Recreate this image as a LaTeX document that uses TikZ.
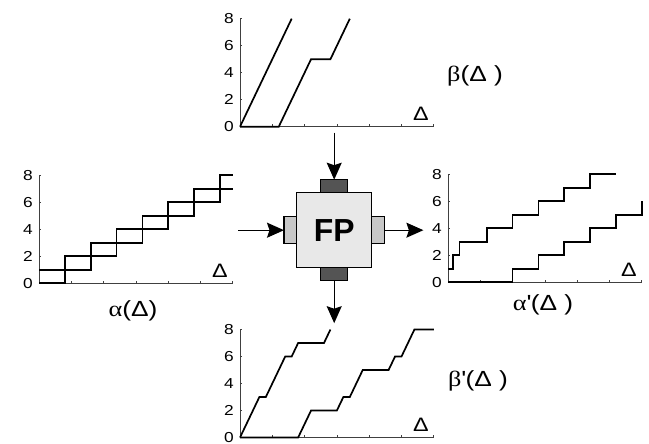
\documentclass[tikz,border=0pt]{standalone}
\usepackage{fontspec}
\setmainfont{Liberation Sans}
\newfontfamily\widefont[FakeStretch=1.2]{Liberation Sans}
\newfontfamily\greekfont[FakeStretch=1.2]{Liberation Serif}
\usepackage{tikz}
\usetikzlibrary{arrows.meta,positioning}

\definecolor{boxgray}{gray}{0.91}
\definecolor{portdark}{gray}{0.33}
\definecolor{portlight}{gray}{0.78}

\tikzset{
  axisline/.style={draw=black!75,line width=0.8bp},
  curve/.style={line width=1.7bp},
  ticklabel/.style={left=6bp,inner sep=0pt,font=\widefont\fontsize{14.5}{14.5}\selectfont},
  deltalabel/.style={inner sep=0pt,font=\widefont\fontsize{19.5}{19.5}\selectfont},
  namelabel/.style={inner sep=0pt,font=\widefont\fontsize{22}{22}\selectfont},
  fpbox/.style={draw,line width=1.4bp,fill=boxgray,minimum size=75bp,inner sep=0pt,
    outer sep=0pt,font=\fontsize{32}{32}\selectfont\bfseries},
  darkport/.style={draw,line width=1.2bp,fill=portdark,minimum width=27bp,minimum height=13bp,
    inner sep=0pt,outer sep=0pt},
  lightport/.style={draw,line width=1.2bp,fill=portlight,minimum width=12.7bp,minimum height=26.7bp,
    inner sep=0pt,outer sep=0pt},
  flow/.style={line width=1.3bp,-{Stealth[length=17bp,width=15bp,inset=2.5bp]}}
}

% axes, ticks and labels of one curve plot
\newcommand{\curveaxes}[1]{%
  \draw[axisline] (0,8) -- (0,0) -- (6,0);
  \foreach \t in {1,...,6} \draw[axisline] (\t,0) -- ++(0,2.5bp);
  \foreach \v in {0,2,4,6,8} {
    \draw[axisline] (0,\v) -- ++(2bp,0);
    \node[ticklabel] (#1\v) at (0,\v) {\v};
  }
  \node[deltalabel] (#1d) at (5.6,0.95) {Δ};
}

\begin{document}
\begin{tikzpicture}[x=1bp,y=1bp]
  \useasboundingbox (0,0) rectangle (649,444);

  % beta (top)
  \begin{scope}[shift={(240,317.3)},x=32.3bp,y=13.5bp]
    \curveaxes{b}
    \draw[curve] (0,0) -- (1.6,8);
    \draw[curve] (0,0) -- (1.2,0) -- (2.2,5) -- (2.8,5) -- (3.4,8);
  \end{scope}
  \node[namelabel] (beta) at (475,368) {{\greekfont β}(Δ )};

  % alpha (left)
  \begin{scope}[shift={(39,160.7)},x=32.3bp,y=13.5bp]
    \curveaxes{a}
    \draw[curve] (0,1) -- (1.6,1) -- (1.6,3) -- (3.2,3) -- (3.2,5) -- (4.8,5) -- (4.8,7) -- (6,7);
    \draw[curve] (0,0) -- (0.8,0) -- (0.8,2) -- (2.4,2) -- (2.4,4) -- (4,4) -- (4,6)
      -- (5.6,6) -- (5.6,8) -- (6,8);
  \end{scope}
  \node[namelabel] (alpha) at (133,133) {{\greekfont α}(Δ)};

  % alpha' (right)
  \begin{scope}[shift={(448,161.7)},x=32.3bp,y=13.5bp]
    \curveaxes{c}
    \draw[curve] (0,1) -- (0.16,1) -- (0.16,2) -- (0.36,2) -- (0.36,3) -- (1.2,3) -- (1.2,4)
      -- (2,4) -- (2,5) -- (2.8,5) -- (2.8,6) -- (3.6,6) -- (3.6,7) -- (4.4,7) -- (4.4,8) -- (5.2,8);
    \draw[curve] (0,0) -- (2,0) -- (2,1) -- (2.8,1) -- (2.8,2) -- (3.6,2) -- (3.6,3) -- (4.4,3)
      -- (4.4,4) -- (5.2,4) -- (5.2,5) -- (6,5) -- (6,6);
  \end{scope}
  \node[namelabel] (alphaout) at (543,139) {{\greekfont α}\textquotesingle(Δ )};

  % beta' (bottom)
  \begin{scope}[shift={(240,6.5)},x=32.3bp,y=13.5bp]
    \curveaxes{d}
    \draw[curve] (0,0) -- (0.6,3) -- (0.8,3) -- (1.4,6) -- (1.6,6) -- (1.8,7) -- (2.6,7) -- (2.8,8);
    \draw[curve] (0,0) -- (1.8,0) -- (2.2,2) -- (3,2) -- (3.2,3) -- (3.4,3) -- (3.8,5) -- (4.6,5)
      -- (4.8,6) -- (5,6) -- (5.4,8) -- (6,8);
  \end{scope}
  \node[namelabel] (betaout) at (478,63) {{\greekfont β}\textquotesingle(Δ )};

  % the FP component
  \node[fpbox] (fp) at (334.2,213.8) {FP};
  \node[darkport,above=0pt of fp] (ptop) {};
  \node[darkport,below=0pt of fp] (pbot) {};
  \node[lightport,left=0pt of fp] (pleft) {};
  \node[lightport,right=0pt of fp] (pright) {};

  \coordinate[above=47bp of ptop.north] (inB);
  \coordinate[left=46bp of pleft.west] (inA);
  \coordinate[right=39bp of pright.east] (outA);
  \coordinate[below=42.5bp of pbot.south] (outB);
  \draw[flow] (inB) -- (ptop);
  \draw[flow] (inA) -- (pleft);
  \draw[flow] (pright) -- (outA);
  \draw[flow] (pbot) -- (outB);
\end{tikzpicture}
\end{document}
